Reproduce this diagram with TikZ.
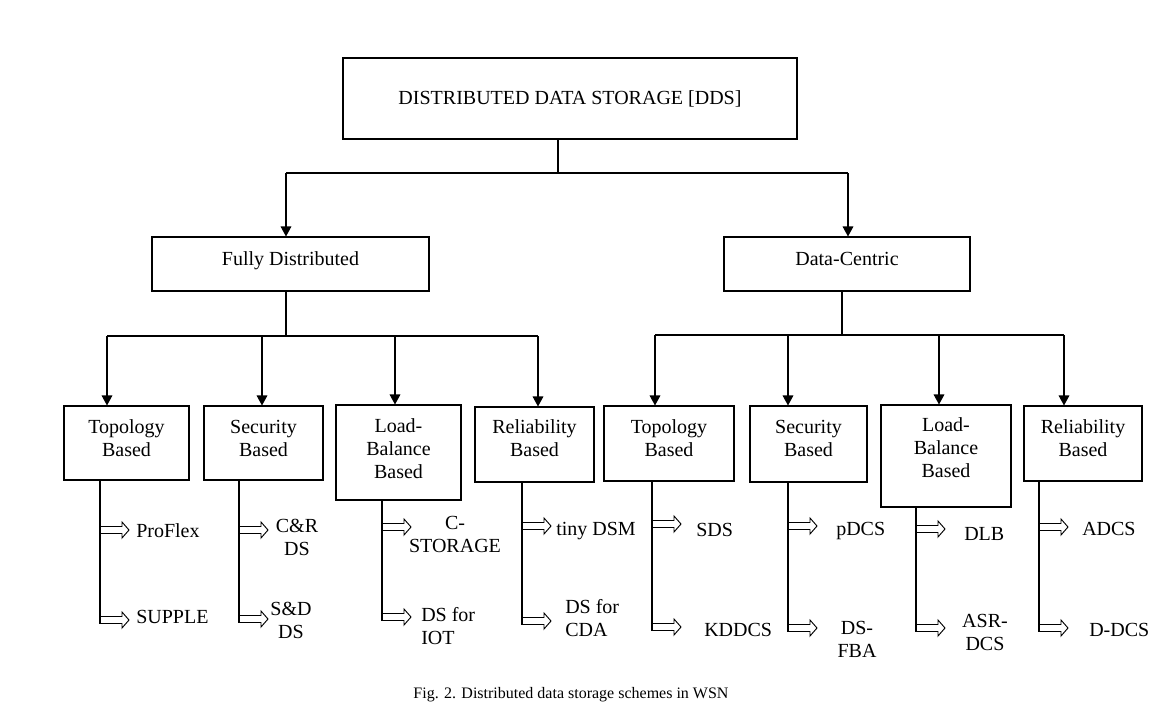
\documentclass[tikz,border=0pt]{standalone}
\usepackage{fontspec}
\setmainfont{Liberation Serif}
\usetikzlibrary{arrows.meta}
\begin{document}
\begin{tikzpicture}[x=0.75pt,y=-0.75pt, font=\fontsize{15pt}{17.25pt}\selectfont,
 box/.style 2 args={draw, line width=0.8pt, minimum width=#1*0.75pt, minimum height=#2*0.75pt, inner sep=0pt},
 lbl/.style={align=center, inner sep=0pt, yshift=#1*0.75pt},
 ln/.style={line width=0.8pt},
 arr/.style={line width=0.8pt, -{Triangle[width=8pt,length=7.5pt]}},
 leaf/.style={inner sep=0pt, anchor=west, align=left},
 leafc/.style={inner sep=0pt, align=center},
 harrow/.pic={\draw[line width=0.7pt] (0,-3.5)--(22,-3.5)--(22,-8)--(29,0)--(22,8)--(22,3.5)--(0,3.5);}]
\useasboundingbox (0,0) rectangle (1161,722);

% level 1
\node[box={454}{81}] (top) at (570,98.5) {DISTRIBUTED DATA STORAGE [DDS]};
% level 2
\node[box={277}{54}, label={[lbl=3.5]center:Fully Distributed}] (fd) at (290.5,264) {};
\node[box={246}{54}, label={[lbl=5.5]center:Data-Centric}] (dc) at (847,264) {};
% level 3 left
\node[box={125}{74}, label={[lbl=4.5]center:{Topology\\Based}}] (l1) at (126.5,443) {};
\node[box={119}{74}, label={[lbl=5]center:{Security\\Based}}] (l2) at (263.5,443) {};
\node[box={125}{95}, label={[lbl=4]center:{Load-\\Balance\\Based}}] (l3) at (398.5,452.5) {};
\node[box={119}{75}, label={[lbl=6.5]center:{Reliability\\Based}}] (l4) at (534.5,444.5) {};
% level 3 right
\node[box={130}{75}, label={[lbl=5.5]center:{Topology\\Based}}] (r1) at (669,443.5) {};
\node[box={117}{76}, label={[lbl=6]center:{Security\\Based}}] (r2) at (808.5,444) {};
\node[box={130}{102}, label={[lbl=8]center:{Load-\\Balance\\Based}}] (r3) at (946,456) {};
\node[box={118}{75}, label={[lbl=5.5]center:{Reliability\\Based}}] (r4) at (1083,443.5) {};

% connectors level 1 -> 2
\coordinate (c0) at (558,173);
\coordinate (cfd) at (286,173);
\coordinate (cdc) at (848,173);
\draw[ln] (c0 |- top.south) -- (c0);
\draw[ln] (cfd) -- (cdc);
\draw[arr] (cfd) -- (cfd |- fd.north);
\draw[arr] (cdc) -- (cdc |- dc.north);

% connectors level 2 -> 3 (left)
\coordinate (bl) at (286,336);
\coordinate (bl1) at (107,336);
\coordinate (bl2) at (262,336);
\coordinate (bl3) at (395,336);
\coordinate (bl4) at (538,336);
\draw[ln] (bl |- fd.south) -- (bl);
\draw[ln] (bl1) -- (bl4);
\draw[arr] (bl1) -- (bl1 |- l1.north);
\draw[arr] (bl2) -- (bl2 |- l2.north);
\draw[arr] (bl3) -- (bl3 |- l3.north);
\draw[arr] (bl4) -- (bl4 |- l4.north);

% connectors level 2 -> 3 (right)
\coordinate (br) at (842,335);
\coordinate (br1) at (655,335);
\coordinate (br2) at (788,335);
\coordinate (br3) at (939,335);
\coordinate (br4) at (1064,335);
\draw[ln] (br |- dc.south) -- (br);
\draw[ln] (br1) -- (br4);
\draw[arr] (br1) -- (br1 |- r1.north);
\draw[arr] (br2) -- (br2 |- r2.north);
\draw[arr] (br3) -- (br3 |- r3.north);
\draw[arr] (br4) -- (br4 |- r4.north);

% stems
\coordinate (sl1) at (100,624);
\coordinate (sl2) at (239,623);
\coordinate (sl3) at (382,621);
\coordinate (sl4) at (522,625);
\coordinate (sr1) at (652,631);
\coordinate (sr2) at (788,632);
\coordinate (sr3) at (916,632);
\coordinate (sr4) at (1039,632);
\draw[ln] (sl1 |- l1.south) -- (sl1);
\draw[ln] (sl2 |- l2.south) -- (sl2);
\draw[ln] (sl3 |- l3.south) -- (sl3);
\draw[ln] (sl4 |- l4.south) -- (sl4);
\draw[ln] (sr1 |- r1.south) -- (sr1);
\draw[ln] (sr2 |- r2.south) -- (sr2);
\draw[ln] (sr3 |- r3.south) -- (sr3);
\draw[ln] (sr4 |- r4.south) -- (sr4);

% hollow arrows
\pic at (100,530) {harrow}; \pic at (100,620) {harrow};
\pic at (239,530) {harrow}; \pic at (239,619) {harrow};
\pic at (382,527) {harrow}; \pic at (382,617) {harrow};
\pic at (522,526) {harrow}; \pic at (522,621) {harrow};
\pic at (652,524) {harrow}; \pic at (652,627) {harrow};
\pic at (788,526) {harrow}; \pic at (788,628) {harrow};
\pic at (916,529) {harrow}; \pic at (916,628) {harrow};
\pic at (1039,527) {harrow}; \pic at (1039,628) {harrow};

% leaf texts
\node[leaf] (t1a) at (136,531) {ProFlex};
\node[leaf] (t1b) at (136,617) {SUPPLE};
\node[leafc] (t2a) at (297,537.5) {C\&R\\DS};
\node[leafc] (t2b) at (291,620.5) {S\&D\\DS};
\node[leafc] (t3a) at (455,534) {C-\\STORAGE};
\node[leaf] (t3b) at (421,626.5) {DS for\\IOT};
\node[leaf] (t4a) at (556,531) {tiny DSM};
\node[leaf] (t4b) at (565,618) {DS for\\CDA};
\node[leaf] (u1a) at (696,530) {SDS};
\node[leaf] (u1b) at (704,630) {KDDCS};
\node[leaf] (u2a) at (836,531) {pDCS};
\node[leafc] (u2b) at (857,639) {DS-\\FBA};
\node[leaf] (u3a) at (964,534) {DLB};
\node[leafc] (u3b) at (985,632.5) {ASR-\\DCS};
\node[leaf] (u4a) at (1082,529) {ADCS};
\node[leaf] (u4b) at (1089,630) {D-DCS};

% caption
\node[font=\fontsize{12pt}{14pt}\selectfont] (cap) at (571,695) {Fig. 2. Distributed data storage schemes in WSN};
\end{tikzpicture}
\end{document}
